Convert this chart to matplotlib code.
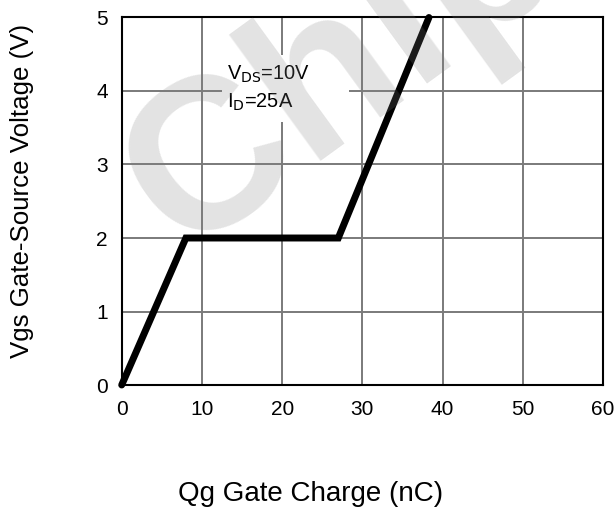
import matplotlib.pyplot as plt
from matplotlib.patches import Rectangle

plt.rcParams['font.family'] = ['Liberation Sans', 'DejaVu Sans']

# gate charge curve (nC, V)
qg = [0, 8, 27, 38.3]
vgs = [0, 2, 2, 5]

x_ticks = [0, 10, 20, 30, 40, 50, 60]
y_ticks = [0, 1, 2, 3, 4, 5]

W, H = 616, 511


def main():
    fig = plt.figure(figsize=(W / 100, H / 100), dpi=100)
    left, right, top, bottom = 121.7, 603, 17.5, 385
    ax = fig.add_axes([left / W, 1 - bottom / H, (right - left) / W, (bottom - top) / H])

    ax.set_xlim(0, 60)
    ax.set_ylim(0, 5)
    ax.set_xticks(x_ticks)
    ax.set_yticks(y_ticks)
    ax.tick_params(length=0, labelsize=15)
    ax.tick_params(axis='x', pad=10.5)
    ax.tick_params(axis='y', pad=10)
    ax.grid(True, color='#7a7a7a', linewidth=1.4, zorder=1)
    ax.set_axisbelow(True)
    for sp in ax.spines.values():
        sp.set_linewidth(1.5)
        sp.set_color('black')

    # white box behind the conditions text
    ax.add_patch(Rectangle((12.5, 3.58), 15.8, 0.91, facecolor='white',
                           edgecolor='none', zorder=2))
    ax.text(13.1, 4.16, r'V$_{\rm DS}$=10V', fontsize=14.4, va='baseline', zorder=3)
    ax.text(13.1, 3.77, r'I$_{\rm D}$=25A', fontsize=14.4, va='baseline', zorder=3)

    ax.plot(qg, vgs, color='black', linewidth=5, solid_capstyle='round',
            solid_joinstyle='miter', clip_on=False, zorder=4)

    fig.text(22 / W, 1 - 191 / H, 'Vgs Gate-Source Voltage (V)', rotation=90,
             ha='center', va='center', fontsize=18.6)
    fig.text(310.5 / W, 1 - 494 / H, 'Qg Gate Charge (nC)',
             ha='center', va='center', fontsize=20)

    # faint watermark
    fig.text(182 / W, 1 - 256 / H, 'Chip', rotation=36, rotation_mode='anchor',
             ha='left', va='baseline', fontsize=155, fontweight='bold',
             color='0.5', alpha=0.22, zorder=10)

    fig.savefig('out.png', dpi=100)


if __name__ == '__main__':
    main()
